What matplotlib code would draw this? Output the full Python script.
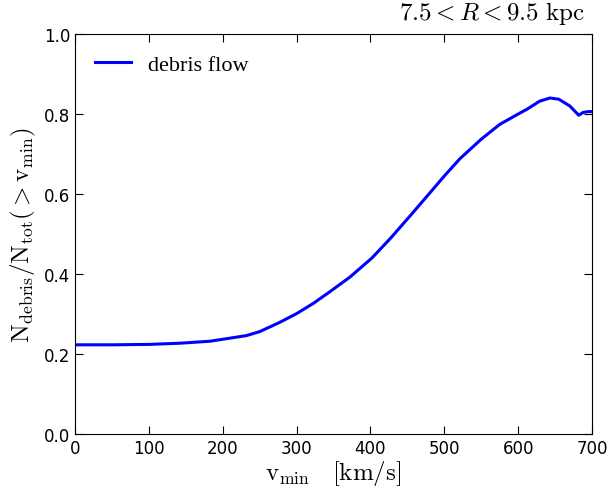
import matplotlib
matplotlib.use("Agg")
import matplotlib.pyplot as plt

# courbe
v_min = [0, 50, 100, 142, 183, 232, 250, 277, 300, 323, 346, 372, 402, 427, 454, 481,
         500, 521, 550, 575, 600, 612, 629, 643, 655, 670, 682, 688, 695, 700]
fraction = [0.223, 0.223, 0.224, 0.227, 0.232, 0.246, 0.256, 0.279, 0.301, 0.327, 0.357,
            0.392, 0.440, 0.489, 0.546, 0.604, 0.645, 0.688, 0.737, 0.774, 0.800, 0.812,
            0.832, 0.840, 0.837, 0.820, 0.797, 0.804, 0.806, 0.806]

plt.rcParams['mathtext.fontset'] = 'cm'

fig = plt.figure(figsize=(6.08, 4.89), dpi=100)
ax = fig.add_axes([0.1234, 0.1104, 0.8503, 0.818])

ax.plot(v_min, fraction, color='blue', linewidth=2.2, label='debris flow')

ax.set_xlim(0, 700)
ax.set_ylim(0, 1)
ax.set_xticks(range(0, 701, 100))
ax.set_yticks([0.0, 0.2, 0.4, 0.6, 0.8, 1.0])
ax.tick_params(direction='in', top=True, right=True, length=6, labelsize=12)

ax.set_xlabel(r'$\mathrm{v_{min}}\ \ \ [\mathrm{km/s}]$', fontsize=18, labelpad=1)
ax.set_ylabel(r'$\mathrm{N_{debris}/N_{tot}(>v_{min})}$', fontsize=18, labelpad=4)
ax.text(0.987, 1.02, r'$7.5 < R < 9.5\ \mathrm{kpc}$', fontsize=18,
        ha='right', va='bottom', transform=ax.transAxes)

ax.legend(loc='upper left', frameon=False, prop={'family': 'Liberation Serif', 'size': 16},
          handlelength=1.6)

plt.savefig('out.png')
